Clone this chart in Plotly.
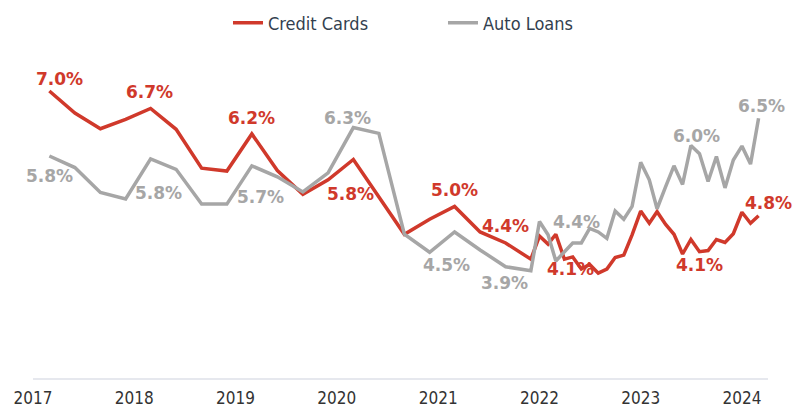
import pandas as pd
import plotly.graph_objects as go

# Quarterly points 2017-2021, then monthly from Jan 2022 to Mar 2024
dates = list(pd.date_range("2017-03-01", "2021-12-01", freq="3MS")) + \
        list(pd.date_range("2022-01-01", "2024-03-01", freq="MS"))

credit_cards = [7.00, 6.62, 6.35, 6.51, 6.70, 6.34, 5.67, 5.62, 6.26, 5.63,
                5.22, 5.47, 5.82, 5.17, 4.53, 4.79, 5.01, 4.57, 4.38, 4.10,
                4.50, 4.36, 4.53, 4.10, 4.14, 3.93, 4.01, 3.86, 3.93, 4.13,
                4.17, 4.52, 4.93, 4.72, 4.92, 4.70, 4.53, 4.19, 4.44, 4.23,
                4.25, 4.44, 4.39, 4.54, 4.91, 4.72, 4.85]

auto_loans = [5.88, 5.68, 5.25, 5.14, 5.83, 5.65, 5.05, 5.05, 5.71, 5.52,
              5.26, 5.59, 6.37, 6.27, 4.53, 4.22, 4.57, 4.26, 3.97, 3.90,
              4.75, 4.52, 4.07, 4.23, 4.38, 4.38, 4.63, 4.57, 4.46, 4.93,
              4.79, 5.01, 5.77, 5.47, 4.97, 5.35, 5.71, 5.39, 6.06, 5.92,
              5.44, 5.87, 5.33, 5.81, 6.05, 5.74, 6.53]

year_ticks = ["2017-01-01", "2018-01-01", "2019-01-01", "2020-01-01",
              "2021-01-01", "2022-01-01", "2023-01-01", "2024-01-01"]
year_labels = ["2017", "2018", "2019", "2020", "2021", "2022", "2023", "2024"]

# value labels: (point index, text, dx, dy) with dx/dy as screen pixel offsets
cc_labels = [(0, "7.0%", 10, -12), (4, "6.7%", -1, -16), (8, "6.2%", 0, -16),
             (12, "5.8%", -3, 35), (16, "5.0%", 0, -16), (18, "4.4%", 0, -17),
             (19, "4.1%", 40, 10), (37, "4.1%", 17, 11), (46, "4.8%", 10, -13)]
al_labels = [(0, "5.8%", 0, 20), (4, "5.8%", 8, 34), (8, "5.7%", 9, 31),
             (12, "6.3%", -6, -10), (15, "4.5%", 17, 13), (19, "3.9%", -26, 12),
             (26, "4.4%", -13, -6), (38, "6.0%", 6, -10), (46, "6.5%", 3, -12)]

RED = "#d0392b"
GREY = "#a6a6a6"
TEXT_FONT = "DejaVu Sans Condensed, DejaVu Sans"

fig = go.Figure()
fig.add_trace(go.Scatter(x=dates, y=credit_cards, mode="lines", name="Credit Cards",
                         line=dict(color=RED, width=3.5)))
fig.add_trace(go.Scatter(x=dates, y=auto_loans, mode="lines", name="Auto Loans",
                         line=dict(color=GREY, width=3.5)))

annotations = []
for values, labels, color in [(credit_cards, cc_labels, RED), (auto_loans, al_labels, GREY)]:
    for i, text, dx, dy in labels:
        annotations.append(dict(
            x=dates[i], y=values[i], text="<b>" + text + "</b>", showarrow=False,
            xshift=dx, yshift=-dy,
            font=dict(family="DejaVu Sans", size=17, color=color)
        ))

fig.update_layout(
    width=803, height=410,
    margin=dict(l=33, r=35, t=55, b=32, autoexpand=False),
    paper_bgcolor="white",
    plot_bgcolor="white",
    font=dict(family=TEXT_FONT, size=18, color="#333f4f"),
    showlegend=True,
    legend=dict(orientation="h", x=0.2653, xanchor="left", y=1.099, yanchor="middle",
                entrywidth=170, itemwidth=30,
                font=dict(family=TEXT_FONT, size=18, color="#333f4f")),
    annotations=annotations,
    xaxis=dict(
        type="date",
        range=["2017-01-01", "2024-04-04"],
        tickvals=year_ticks,
        ticktext=year_labels,
        showgrid=False,
        zeroline=False,
        showline=True,
        linecolor="#e6e8ee",
        linewidth=1.5,
        ticks="",
        ticklabelstandoff=4,
        tickfont=dict(family=TEXT_FONT, size=17, color="#333333"),
    ),
    yaxis=dict(
        range=[2.052, 7.621],
        visible=False,
        showgrid=False,
        zeroline=False,
    ),
)

# page body has a default 8px margin; remove it so the figure sits at the window origin
fig.write_html("out.html", config={"displayModeBar": False},
               post_script="document.body.style.margin='0';")
